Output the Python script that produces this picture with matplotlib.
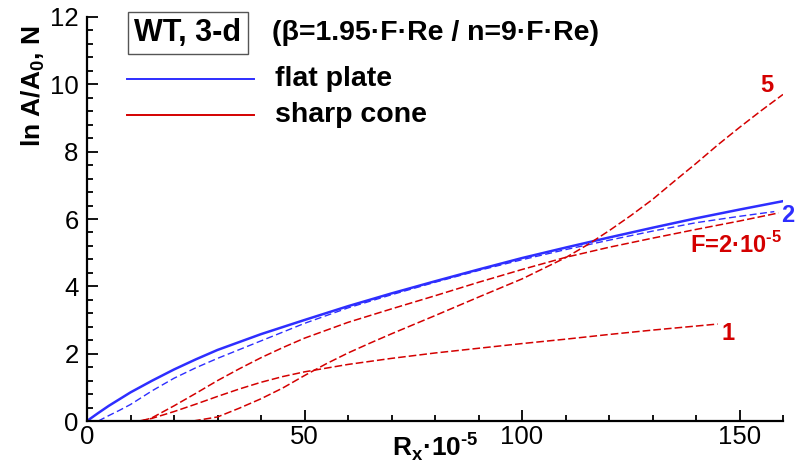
import matplotlib
matplotlib.use("Agg")
import matplotlib.pyplot as plt

plt.rcParams["font.family"] = ["Liberation Sans", "DejaVu Sans"]
plt.rcParams["mathtext.fontset"] = "custom"
plt.rcParams["mathtext.rm"] = "Liberation Sans:bold"
plt.rcParams["mathtext.bf"] = "Liberation Sans:bold"

BLUE = "#2e2eff"
RED = "#d40000"

# flat plate, solid and dashed
x_plate = [0, 2.5, 5, 7.5, 10, 15, 20, 25, 30, 40, 50, 60, 70, 80, 90, 100,
           110, 120, 130, 140, 150, 160]
y_plate = [0, 0.23, 0.45, 0.65, 0.85, 1.20, 1.53, 1.83, 2.11, 2.58, 3.00,
           3.41, 3.79, 4.15, 4.50, 4.84, 5.15, 5.45, 5.74, 6.02, 6.28, 6.53]
x_plate_d = [2.6, 5, 7.5, 10, 15, 20, 25, 30, 40, 50, 60, 70, 80, 90, 100,
             110, 120, 130, 140, 150, 158]
y_plate_d = [0, 0.16, 0.32, 0.49, 0.90, 1.27, 1.58, 1.86, 2.38, 2.90, 3.36,
             3.75, 4.12, 4.47, 4.79, 5.09, 5.37, 5.64, 5.89, 6.08, 6.22]

# sharp cone, F = 2, 1, 5 (x 1e-5)
x_cone2 = [12.6, 15, 20, 25, 30, 35, 40, 45, 50, 60, 70, 80, 90, 100, 110,
           120, 130, 140, 150, 159]
y_cone2 = [0, 0.10, 0.45, 0.82, 1.20, 1.55, 1.88, 2.18, 2.46, 2.93, 3.33,
           3.72, 4.12, 4.50, 4.86, 5.16, 5.43, 5.69, 5.94, 6.18]
x_cone1 = [12, 15, 20, 25, 30, 35, 40, 45, 50, 60, 70, 80, 90, 100, 110,
           120, 130, 140, 145]
y_cone1 = [0, 0.08, 0.28, 0.50, 0.73, 0.95, 1.15, 1.32, 1.46, 1.68, 1.86,
           2.02, 2.16, 2.30, 2.43, 2.57, 2.70, 2.82, 2.88]
x_cone5 = [24.4, 30, 35, 40, 45, 50, 55, 60, 65, 70, 80, 90, 100, 110, 115,
           120, 125, 130, 135, 140, 145, 150, 155, 160]
y_cone5 = [0, 0.12, 0.38, 0.66, 0.98, 1.35, 1.70, 2.02, 2.31, 2.59, 3.13,
           3.68, 4.22, 4.85, 5.23, 5.65, 6.10, 6.58, 7.12, 7.65, 8.20, 8.72,
           9.22, 9.70]

xticks = [0, 50, 100, 150]
yticks = [0, 2, 4, 6, 8, 10, 12]

W, H = 795, 469
fig = plt.figure(figsize=(W / 100, H / 100), dpi=100)
ax = fig.add_axes([87 / W, 48 / H, 696 / W, 404 / H])


def px(x, y):
    """pixel position (from top-left) -> figure fraction"""
    return x / W, 1 - y / H


ax.plot(x_plate, y_plate, "-", color=BLUE, lw=1.8)
ax.plot(x_plate_d, y_plate_d, color=BLUE, lw=1.0, dashes=(5, 2.5))
for xs, ys in [(x_cone2, y_cone2), (x_cone1, y_cone1), (x_cone5, y_cone5)]:
    ax.plot(xs, ys, color=RED, lw=1.1, dashes=(5, 2))

ax.set_xlim(0, 160)
ax.set_ylim(0, 12)
ax.set_xticks(xticks)
ax.set_yticks(yticks)
ax.set_xticks(range(0, 161, 10), minor=True)
ax.set_yticks([i * 0.4 for i in range(31)], minor=True)
ax.tick_params(which="both", direction="in", width=1.3, labelsize=18.5,
               top=False, right=False)
ax.tick_params(which="major", length=8)
ax.tick_params(which="minor", length=4.5)
ax.tick_params(axis="x", pad=3)
ax.tick_params(axis="y", pad=6)
for s in ["top", "right"]:
    ax.spines[s].set_visible(False)
for s in ["left", "bottom"]:
    ax.spines[s].set_linewidth(1.6)

# "-5" exponent drawn with a plain hyphen
EXP = r"$^{\rm \text{-}5}$"

# curve labels
lab = dict(fontsize=17, fontweight="bold", ha="center", va="center")
ax.text(156.3, 9.97, "5", color=RED, **lab)
ax.text(147.4, 2.61, "1", color=RED, **lab)
ax.text(161.0, 6.11, "2", color=BLUE, clip_on=False, **lab)
ax.text(149.2, 5.22, "F=2·10" + EXP, color=RED, **lab)

# axis titles
fig.text(*px(435, 447), r"R$_{\rm x}$·10" + EXP, fontsize=19,
         fontweight="bold", ha="center", va="center")
fig.text(*px(33, 86), r"ln A/A$_{\rm 0}$, N", fontsize=19,
         fontweight="bold", ha="center", va="center", rotation=90)

# header and legend
fig.text(*px(188, 33), "WT, 3-d", fontsize=22, fontweight="bold",
         ha="center", va="center",
         bbox=dict(boxstyle="square,pad=0.2", fc="white", ec="#555555",
                   lw=1.0))
fig.text(*px(272, 33), "(β=1.95·F·Re / n=9·F·Re)", fontsize=20.5,
         fontweight="bold", ha="left", va="center")
for yy, col, name in [(79, BLUE, "flat plate"), (115, RED, "sharp cone")]:
    x0, y0 = px(127, yy)
    x1, _ = px(254, yy)
    fig.add_artist(plt.Line2D([x0, x1], [y0, y0], color=col, lw=1.4,
                              transform=fig.transFigure))
    fig.text(*px(275, yy), name, fontsize=20.5, fontweight="bold",
             ha="left", va="center")

fig.savefig("out.png", dpi=100)
